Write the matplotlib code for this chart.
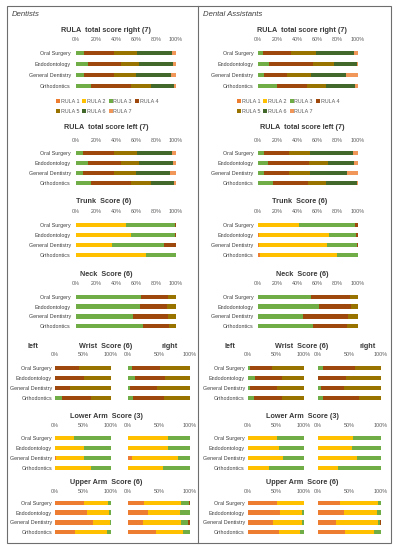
import matplotlib
matplotlib.use('Agg')
import matplotlib.pyplot as plt
from matplotlib.patches import Rectangle
from matplotlib.lines import Line2D
import numpy as np

W, H = 397, 550
plt.rcParams['font.family'] = ['Liberation Sans', 'DejaVu Sans']

groups = ['Oral Surgery', 'Endodontology', 'General Dentistry', 'Orthodontics']
score_names = ['RULA 1', 'RULA 2', 'RULA 3', 'RULA 4', 'RULA 5', 'RULA 6', 'RULA 7']
palette = ['#ED7D31', '#FFC000', '#70AD47', '#9E480E', '#997300', '#43682B', '#F1975A']

# values in %, columns = score 1, 2, 3 ...
dent_rula_right = [[0, 0, 8, 30, 23, 35, 4], [0, 0, 12, 33, 18, 34, 3], [0, 0, 8, 30, 22, 35, 5], [0, 0, 15, 40, 20, 23, 2]]
dent_rula_left = [[0, 0, 7, 31, 23, 35, 4], [0, 0, 12, 33, 18, 34, 3], [0, 0, 7, 31, 22, 34, 6], [0, 0, 15, 40, 20, 23, 2]]
dent_trunk = [[0, 50, 49, 1], [0, 55, 44, 1], [0, 36, 52, 12], [0, 70, 30, 0]]
dent_neck = [[0, 0, 65, 27, 8], [0, 0, 64, 27, 9], [0, 0, 57, 35, 8], [0, 0, 67, 26, 7]]
dent_wrist_left = [[0, 0, 0, 43, 57], [0, 0, 0, 52, 48], [0, 0, 0, 27, 73], [0, 0, 13, 52, 35]]
dent_wrist_right = [[0, 0, 6, 46, 48], [0, 0, 12, 48, 40], [0, 0, 4, 42, 54], [0, 0, 8, 50, 42]]
dent_lower_left = [[0, 34, 66], [0, 52, 48], [2, 50, 48], [0, 65, 35]]
dent_lower_right = [[0, 65, 35], [0, 65, 35], [6, 75, 19], [0, 56, 44]]
dent_upper_left = [[52, 43, 5], [58, 39, 3], [68, 30, 2], [36, 57, 7]]
dent_upper_right = [[26, 59, 13, 2], [33, 51, 16, 0], [24, 61, 12, 3], [45, 43, 12, 0]]

asst_rula_right = [[0, 0, 5, 28, 25, 38, 4], [0, 0, 11, 44, 21, 23, 1], [0, 0, 6, 23, 24, 35, 12], [0, 0, 19, 30, 19, 29, 3]]
asst_rula_left = [[0, 0, 6, 25, 21, 43, 5], [0, 0, 10, 41, 19, 26, 4], [0, 0, 6, 25, 21, 37, 11], [0, 0, 15, 35, 18, 31, 1]]
asst_trunk = [[0, 41, 56, 3], [1, 70, 27, 2], [1, 68, 30, 1], [2, 77, 21, 0]]
asst_neck = [[0, 0, 53, 39, 8], [0, 0, 61, 32, 7], [0, 0, 45, 45, 10], [0, 0, 55, 34, 11]]
asst_wrist_left = [[0, 0, 3, 40, 57], [0, 0, 13, 48, 39], [0, 0, 4, 48, 48], [0, 0, 10, 51, 39]]
asst_wrist_right = [[0, 0, 8, 51, 41], [0, 0, 0, 45, 55], [0, 0, 5, 36, 59], [0, 0, 8, 57, 35]]
asst_lower_left = [[0, 52, 48], [0, 55, 45], [0, 63, 37], [0, 37, 63]]
asst_lower_right = [[0, 55, 45], [0, 54, 46], [0, 62, 38], [0, 31, 69]]
asst_upper_left = [[51, 49, 0], [58, 38, 4], [45, 52, 3], [55, 38, 7]]
asst_upper_right = [[35, 60, 5, 0], [42, 52, 6, 0], [29, 66, 3, 2], [43, 46, 11, 0]]

big_ticks = [0, 20, 40, 60, 80, 100]
small_ticks = [0, 50, 100]

fig = plt.figure(figsize=(W / 100, H / 100), dpi=100)


def stacked(x0, x1, top, bottom, tick_y, rows, ticks, labels, label_pad):
	ax = fig.add_axes([x0 / W, 1 - bottom / H, (x1 - x0) / W, (bottom - top) / H])
	rows = np.array(rows, dtype=float)
	rows = rows / rows.sum(axis=1, keepdims=True) * 100
	y = np.arange(len(groups))
	left = np.zeros(len(groups))
	for k in range(rows.shape[1]):
		ax.barh(y, rows[:, k], left=left, height=0.45, color=palette[k], linewidth=0)
		left += rows[:, k]
	ax.set_xlim(0, 100)
	ax.set_ylim(len(groups) - 0.5, -0.5)
	ax.xaxis.tick_top()
	ax.set_xticks(ticks)
	ax.set_xticklabels(['{}%'.format(t) for t in ticks])
	ax.set_yticks(y)
	ax.set_yticklabels(groups if labels else [])
	ax.tick_params(axis='x', length=0, pad=(top - tick_y - 2) * 0.72, labelsize=3.9, labelcolor='#595959')
	ax.tick_params(axis='y', length=0, pad=label_pad * 0.72, labelsize=3.9, labelcolor='#404040')
	for s in ax.spines.values():
		s.set_visible(False)
	ax.patch.set_alpha(0)
	return ax


def txt(x, y, s, **kw):
	fig.text(x / W, 1 - y / H, s, ha='center', va='center', **kw)


title_kw = dict(fontsize=5.2, fontweight='bold', color='#3a3a3a')

panels = [
	(0, 'Dentists', 76, 176, 55, 111, 128, 190, 5, 3, 106,
	 [dent_rula_right, dent_rula_left, dent_trunk, dent_neck, dent_wrist_left, dent_wrist_right,
	  dent_lower_left, dent_lower_right, dent_upper_left, dent_upper_right], 57),
	(1, 'Dental Assistants', 257.5, 357.5, 248, 304, 318, 381, 4, 3, 302,
	 [asst_rula_right, asst_rula_left, asst_trunk, asst_neck, asst_wrist_left, asst_wrist_right,
	  asst_lower_left, asst_lower_right, asst_upper_left, asst_upper_right], 238),
]

for idx, name, bx0, bx1, lx0, lx1, rx0, rx1, bpad, spad, cx, d, leg_x in panels:
	fig.text((12 if idx == 0 else 203) / W, 1 - 14 / H, name, ha='left', va='center',
		fontsize=5.6, style='italic', color='#404040')

	txt(cx, 31, 'RULA  total score right (7)', **title_kw)
	stacked(bx0, bx1, 47.5, 91.5, 40, d[0], big_ticks, True, bpad)

	handles = [Line2D([], [], ls='none', marker='s', ms=2.4, mew=0, color=c) for c in palette]
	order = [0, 4, 1, 5, 2, 6, 3]
	fig.legend([handles[i] for i in order], [score_names[i] for i in order], ncol=4,
		loc='upper left', bbox_to_anchor=(leg_x / W, 1 - 99 / H), frameon=False,
		fontsize=3.9, handlelength=0.5, handletextpad=0.3, columnspacing=0.6,
		labelspacing=0.9, borderpad=0, borderaxespad=0, labelcolor='#595959')

	txt(cx, 128, 'RULA  total score left (7)', **title_kw)
	stacked(bx0, bx1, 148, 188, 141, d[1], big_ticks, True, bpad)

	txt(cx - 2, 202, 'Trunk  Score (6)', **title_kw)
	stacked(bx0, bx1, 220, 260, 212, d[2], big_ticks, True, bpad)

	txt(cx, 274, 'Neck  Score (6)', **title_kw)
	stacked(bx0, bx1, 292, 331, 284, d[3], big_ticks, True, bpad)

	txt(cx, 346, 'Wrist  Score (6)', **title_kw)
	txt(lx0 - 22 if idx == 0 else lx0 - 18, 346, 'left', **title_kw)
	txt(rx1 - 20 if idx == 0 else rx1 - 13, 346, 'right', **title_kw)
	stacked(lx0, lx1, 363, 403, 355, d[4], small_ticks, True, spad)
	stacked(rx0, rx1, 363, 403, 355, d[5], small_ticks, False, spad)

	txt(cx, 417, 'Lower Arm  Score (3)', **title_kw)
	stacked(lx0, lx1, 433, 473, 426, d[6], small_ticks, True, spad)
	stacked(rx0, rx1, 433, 473, 426, d[7], small_ticks, False, spad)

	txt(cx, 482, 'Upper Arm  Score (6)', **title_kw)
	stacked(lx0, lx1, 498, 537, 492, d[8], small_ticks, True, spad)
	stacked(rx0, rx1, 498, 537, 492, d[9], small_ticks, False, spad)

fig.add_artist(Rectangle((7 / W, 1 - 543 / H), (391 - 7) / W, (543 - 6) / H, transform=fig.transFigure,
	fill=False, edgecolor='#6e6e6e', linewidth=0.8))
fig.add_artist(Line2D([197.5 / W, 197.5 / W], [1 - 6 / H, 1 - 543 / H], transform=fig.transFigure,
	color='#6e6e6e', linewidth=0.8))

fig.savefig('out.png', dpi=100)
